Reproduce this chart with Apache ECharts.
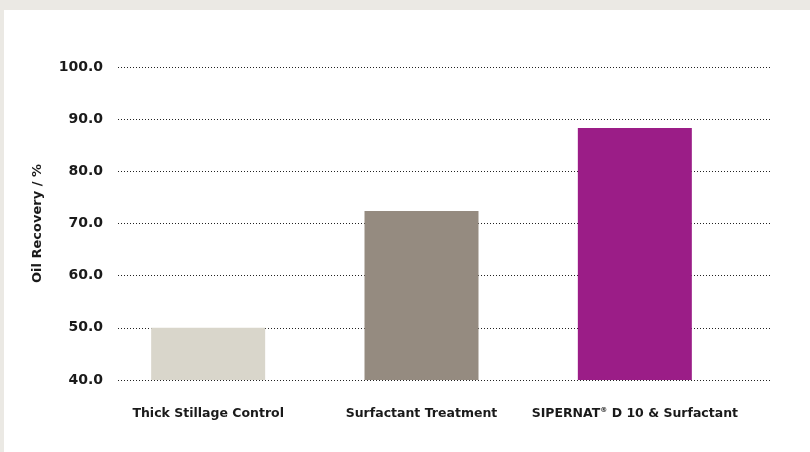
<!DOCTYPE html>
<html>
<head>
<meta charset="utf-8">
<script src="https://cdn.jsdelivr.net/npm/echarts@6/dist/echarts.min.js"></script>
<style>
html,body{margin:0;padding:0;background:#ebe9e4;width:810px;height:452px;overflow:hidden;}
#c{position:absolute;left:4px;top:10px;width:806px;height:442px;background:#ffffff;}
</style>
</head>
<body>
<div id="c"></div>
<script>
var categories = ['Thick Stillage Control', 'Surfactant Treatment', 'SIPERNAT® D 10 & Surfactant'];
var values = [50.0, 72.4, 88.3];
var colors = ['#d9d6cb', '#958b80', '#9b1d87'];
var yMin = 40, yMax = 100, yStep = 10;
var yTitle = 'Oil Recovery / %';

var chart = echarts.init(document.getElementById('c'));
var font = '"DejaVu Sans", sans-serif';
chart.setOption({
  animation: false,
  grid: [
    {left: 114, right: 40, top: 57, height: 313},
    {left: 97.5, right: 68.5, top: 57, height: 313}
  ],
  xAxis: [
    {gridIndex: 0, type: 'value', show: false, min: 0, max: 1},
    {gridIndex: 1, type: 'category', data: categories,
     axisLine: {show: false}, axisTick: {show: false},
     axisLabel: {color: '#1a1a1a', fontFamily: font, fontWeight: 'bold', fontSize: 12.5, margin: 27, interval: 0,
       formatter: function (v) { return v.replace('®', '{sup|®}'); },
       rich: {sup: {fontSize: 7, fontFamily: font, fontWeight: 'bold', color: '#1a1a1a', verticalAlign: 'top', padding: [0, 0, 6, 0]}}
     }}
  ],
  yAxis: [
    {gridIndex: 0, type: 'value', min: yMin, max: yMax, interval: yStep,
     name: yTitle, nameLocation: 'middle', nameGap: 74,
     nameTextStyle: {color: '#1a1a1a', fontFamily: font, fontWeight: 'bold', fontSize: 13},
     axisLine: {show: false}, axisTick: {show: false},
     axisLabel: {color: '#1a1a1a', fontFamily: font, fontWeight: 'bold', fontSize: 14, margin: 15,
       formatter: function (v) { return v.toFixed(1); }},
     splitLine: {show: true, lineStyle: {color: '#222', type: [1, 2], width: 1.2}}
    },
    {gridIndex: 1, type: 'value', min: yMin, max: yMax, interval: yStep, show: false, splitLine: {show: false}}
  ],
  series: [{
    type: 'bar', xAxisIndex: 1, yAxisIndex: 1,
    barWidth: 114,
    data: values.map(function (v, i) { return {value: v, itemStyle: {color: colors[i]}}; }),
    z: 3
  }]
});
</script>
</body>
</html>
